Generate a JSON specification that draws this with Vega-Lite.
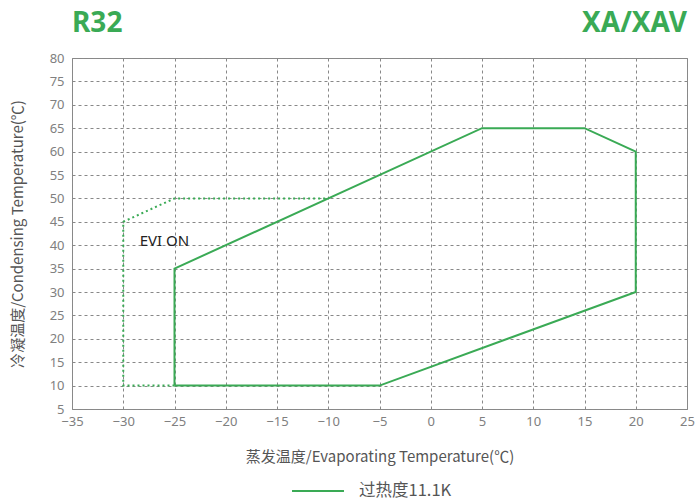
{
  "$schema": "https://vega.github.io/schema/vega-lite/v6.json",
  "width": 615,
  "height": 351,
  "autosize": {"type": "none"},
  "padding": {"left": 72, "top": 58, "right": 11, "bottom": 92},
  "background": "white",
  "config": {
    "font": "Noto Sans CJK SC",
    "view": {"stroke": "#8a8a8a", "strokeWidth": 1},
    "axis": {"labelOverlap": false, "labelFont": "Noto Sans"}
  },
  "datasets": {
    "solid": [
      {"t": -25, "c": 10, "o": 1, "s": "过热度11.1K"},
      {"t": -5, "c": 10, "o": 2, "s": "过热度11.1K"},
      {"t": 20, "c": 30, "o": 3, "s": "过热度11.1K"},
      {"t": 20, "c": 60, "o": 4, "s": "过热度11.1K"},
      {"t": 15, "c": 65, "o": 5, "s": "过热度11.1K"},
      {"t": 5, "c": 65, "o": 6, "s": "过热度11.1K"},
      {"t": -25, "c": 35, "o": 7, "s": "过热度11.1K"},
      {"t": -25, "c": 10, "o": 8, "s": "过热度11.1K"}
    ],
    "dotted": [
      {"t": -25, "c": 10, "o": 1},
      {"t": -30, "c": 10, "o": 2},
      {"t": -30, "c": 45, "o": 3},
      {"t": -25, "c": 50, "o": 4},
      {"t": -10, "c": 50, "o": 5}
    ],
    "labels": [
      {"t": -28.4, "c": 41, "label": "EVI ON"}
    ],
    "left": [
      {"t": -35, "c": 85.6, "label": "R32"}
    ],
    "right": [
      {"t": 25, "c": 85.6, "label": "XA/XAV"}
    ]
  },
  "encoding": {
    "x": {
      "field": "t", "type": "quantitative",
      "scale": {"domain": [-35, 25], "nice": false, "zero": false},
      "axis": {
        "title": "蒸发温度/Evaporating Temperature(℃)",
        "values": [-35,-30,-25,-20,-15,-10,-5,0,5,10,15,20,25],
        "grid": true, "gridDash": [3, 3], "gridColor": "#888888", "gridOpacity": 1,
        "ticks": false, "domain": false, "labelOverlap": false,
        "labelFontSize": 13, "labelColor": "#808080", "labelPadding": 6,
        "labelFlush": false,
        "titleFontSize": 15, "titleFontWeight": "normal", "titleColor": "#555555", "titlePadding": 21
      }
    },
    "y": {
      "field": "c", "type": "quantitative",
      "scale": {"domain": [5, 80], "nice": false, "zero": false},
      "axis": {
        "title": "冷凝温度/Condensing Temperature(℃)",
        "values": [5,10,15,20,25,30,35,40,45,50,55,60,65,70,75,80],
        "grid": true, "gridDash": [3, 3], "gridColor": "#888888", "gridOpacity": 1,
        "ticks": false, "domain": false, "labelOverlap": false, "labelFlush": false,
        "labelFontSize": 13, "labelColor": "#808080", "labelPadding": 8,
        "titleFontSize": 15, "titleFontWeight": "normal", "titleColor": "#555555", "titlePadding": 24
      }
    }
  },
  "layer": [
    {
      "data": {"name": "solid"},
      "mark": {"type": "line", "strokeWidth": 2, "clip": false},
      "encoding": {
        "order": {"field": "o", "type": "quantitative"},
        "color": {
          "field": "s", "type": "nominal",
          "scale": {"range": ["#3aaa55"]},
          "legend": {
            "title": null, "orient": "none", "legendX": 219, "legendY": 406, "direction": "horizontal",
            "symbolType": "stroke", "symbolSize": 2700, "symbolStrokeWidth": 2,
            "labelFontSize": 16.5, "labelColor": "#555555", "labelOffset": 14
          }
        }
      }
    },
    {
      "data": {"name": "dotted"},
      "mark": {"type": "line", "strokeWidth": 2, "strokeDash": [2, 3], "color": "#3aaa55"},
      "encoding": {
        "order": {"field": "o", "type": "quantitative"}
      }
    },
    {
      "data": {"name": "labels"},
      "mark": {"type": "text", "align": "left", "baseline": "middle", "fontSize": 15, "color": "#222222", "font": "Noto Sans"},
      "encoding": {
        "text": {"field": "label"}
      }
    },
    {
      "data": {"name": "left"},
      "mark": {"type": "text", "align": "left", "baseline": "alphabetic", "fontSize": 28, "fontWeight": "bold", "color": "#3aaa55", "font": "Noto Sans", "clip": false},
      "encoding": {
        "text": {"field": "label"}
      }
    },
    {
      "data": {"name": "right"},
      "mark": {"type": "text", "align": "right", "baseline": "alphabetic", "fontSize": 28, "fontWeight": "bold", "color": "#3aaa55", "font": "Noto Sans", "clip": false},
      "encoding": {
        "text": {"field": "label"}
      }
    }
  ]
}
